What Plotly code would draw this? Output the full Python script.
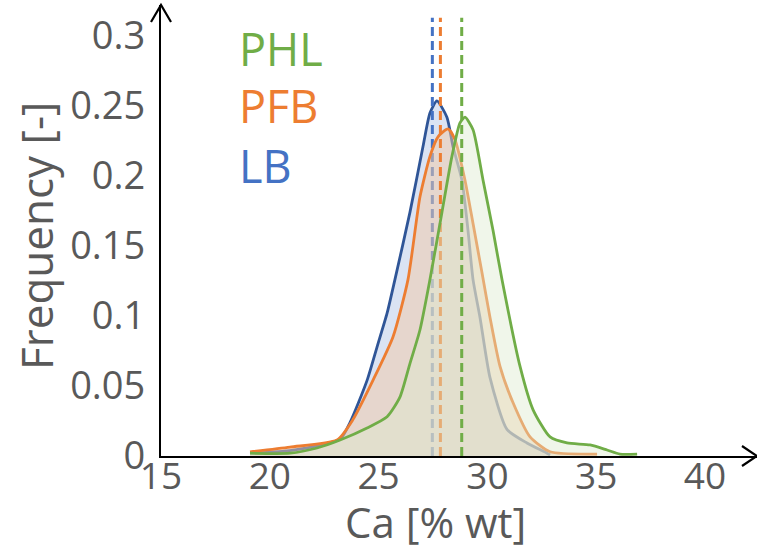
import plotly.graph_objects as go

# ---------------- data ----------------
lb_x = [19.09, 21.0, 23.23, 23.69, 24.47, 24.93, 25.39, 25.75, 26.44, 27.04, 27.36, 27.68,
        28.14, 28.42, 28.83, 29.11, 29.34, 29.66, 30.12, 30.90, 31.82, 32.74, 32.88]
lb_y = [0.002, 0.004, 0.012, 0.024, 0.054, 0.078, 0.102, 0.126, 0.174, 0.221, 0.245, 0.2536,
        0.242, 0.221, 0.197, 0.161, 0.126, 0.099, 0.056, 0.019, 0.0093, 0.002, 0.0007]

pfb_x = [19.09, 20.93, 23.09, 23.82, 24.74, 25.66, 26.35, 26.90, 27.36, 27.73, 28.19, 28.51,
         28.97, 29.34, 29.75, 30.12, 30.58, 31.18, 31.96, 32.88, 35.04]
pfb_y = [0.003, 0.0064, 0.0114, 0.026, 0.054, 0.085, 0.126, 0.185, 0.214, 0.228, 0.2336, 0.226,
         0.197, 0.166, 0.131, 0.099, 0.064, 0.038, 0.0136, 0.003, 0.0014]

phl_x = [19.09, 20.93, 22.17, 23.23, 24.47, 25.39, 25.98, 26.44, 26.90, 27.36, 27.91, 28.37,
         28.74, 28.97, 29.34, 29.80, 30.26, 30.67, 31.50, 32.10, 32.88, 33.66, 34.72, 35.50,
         36.09, 36.88]
phl_y = [0.002, 0.002, 0.0057, 0.0114, 0.020, 0.028, 0.042, 0.066, 0.090, 0.126, 0.174, 0.214,
         0.238, 0.242, 0.233, 0.197, 0.161, 0.126, 0.064, 0.033, 0.0136, 0.0093, 0.0079, 0.0043,
         0.0014, 0.0014]

series_names = ["LB", "PFB", "PHL"]
mean_values = [27.47, 27.84, 28.82]
mean_line_top = 0.313

x_ticks = [15, 20, 25, 30, 35, 40]
y_ticks = [0, 0.05, 0.1, 0.15, 0.2, 0.25, 0.3]
y_tick_text = ["0", "0.05", "0.1", "0.15", "0.2", "0.25", "0.3"]

x_title = "Ca [% wt]"
y_title = "Frequency [-]"

# ---------------- styles ----------------
FONT = "Open Sans"
GREY = "#595959"
line_colors = ["#2F5597", "#ED7D31", "#70AD47"]
fill_colors = ["rgba(68,114,196,0.2)", "rgba(242,202,167,0.5)", "rgba(220,234,206,0.43)"]
dash_colors = ["#4472C4", "#ED7D31", "#70AD47"]
label_colors = ["#4472C4", "#ED7D31", "#70AD47"]

W, H = 757, 549
ML, MR, MT, MB = 161, 0, 5, 93
px_per_x = 21.76
px_per_y = 1400.0
x_range = [15, 15 + (W - ML - MR) / px_per_x]
y_range = [0, (H - MT - MB) / px_per_y]

fig = go.Figure()

curves = [(lb_x, lb_y), (pfb_x, pfb_y), (phl_x, phl_y)]
for i, (cx, cy) in enumerate(curves):
    fig.add_trace(go.Scatter(
        x=cx, y=cy, mode="lines", name=series_names[i],
        line=dict(color=line_colors[i], width=2.8, shape="spline", smoothing=0.6),
        fill="tozeroy", fillcolor=fill_colors[i], hoverinfo="skip"))
    fig.add_trace(go.Scatter(
        x=[mean_values[i], mean_values[i]], y=[0, mean_line_top], mode="lines",
        line=dict(color=dash_colors[i], width=3, dash="9px,5px"), hoverinfo="skip"))

# legend-like labels
legend_order = [2, 1, 0]
legend_y = [48, 106, 165]
for k, idx in enumerate(legend_order):
    fig.add_annotation(
        x=(237 - ML) / (W - ML - MR), xref="paper", xanchor="left",
        y=1 - (legend_y[k] - MT) / (H - MT - MB), yref="paper", yanchor="middle",
        text=series_names[idx], showarrow=False,
        font=dict(family=FONT, size=45, color=label_colors[idx]))

# axis titles
fig.add_annotation(
    x=(435 - ML) / (W - ML - MR), xref="paper", xanchor="center",
    y=-(521 - (H - MB)) / (H - MT - MB), yref="paper", yanchor="middle",
    text=x_title, showarrow=False, font=dict(family=FONT, size=42, color=GREY))
fig.add_annotation(
    x=-(ML - 36) / (W - ML - MR), xref="paper", xanchor="center",
    y=1 - (236 - MT) / (H - MT - MB), yref="paper", yanchor="middle",
    text=y_title, textangle=-90, showarrow=False,
    font=dict(family=FONT, size=44, color=GREY))

# arrow heads on the axes (paper coordinates)
pw, ph = W - ML - MR, H - MT - MB
ax_back, ax_half = 15 / pw, 10 / ph
fig.add_shape(type="path", xref="paper", yref="paper",
              path=f"M {1 - ax_back},{ax_half} L 1,0 L {1 - ax_back},{-ax_half}",
              line=dict(color="black", width=2.2))
ay_back, ay_half = 17 / ph, 10 / pw
fig.add_shape(type="path", xref="paper", yref="paper",
              path=f"M {-ay_half},{1 - ay_back} L 0,1 L {ay_half},{1 - ay_back}",
              line=dict(color="black", width=2.2))

fig.update_layout(
    width=W, height=H,
    margin=dict(l=ML, r=MR, t=MT, b=MB, pad=0),
    paper_bgcolor="white", plot_bgcolor="white",
    showlegend=False,
    xaxis=dict(range=x_range, tickvals=x_ticks, showgrid=False, zeroline=False,
               showline=True, linecolor="black", linewidth=2.2, ticks="",
               tickfont=dict(family=FONT, size=37, color=GREY), ticklabelstandoff=-14),
    yaxis=dict(range=y_range, tickvals=y_ticks, ticktext=y_tick_text, showgrid=False,
               zeroline=False, showline=True, linecolor="black", linewidth=2.2, ticks="",
               tickfont=dict(family=FONT, size=38, color=GREY), ticklabelstandoff=6),
)

fig.write_html("out.html")
